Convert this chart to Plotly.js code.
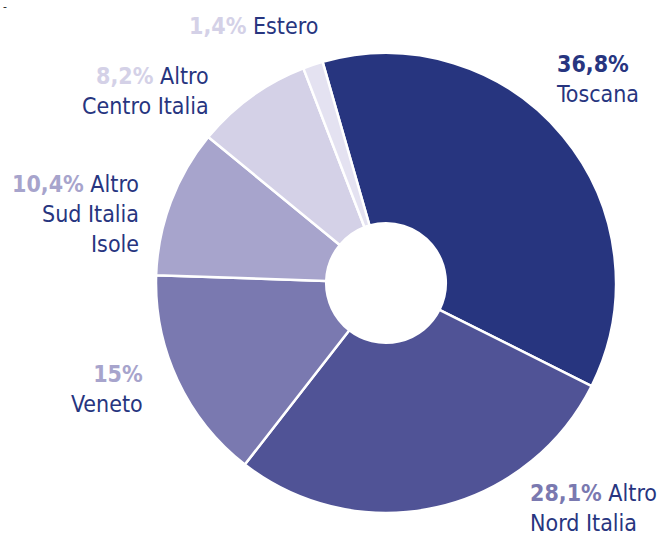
<!DOCTYPE html>
<html>
<head>
<meta charset="utf-8">
<script src="https://cdn.plot.ly/plotly-3.0.1.min.js"></script>
<style>html,body{margin:0;padding:0;background:#fff;}#chart{width:658px;height:535px;}</style>
</head>
<body>
<div id="chart"></div>
<script>
const categories = ["Toscana", "Altro Nord Italia", "Veneto", "Altro Sud Italia Isole", "Altro Centro Italia", "Estero"];
const values = [36.8, 28.1, 15, 10.4, 8.2, 1.4];
const percentLabels = ["36,8%", "28,1%", "15%", "10,4%", "8,2%", "1,4%"];
const nameLines = [["Toscana"], ["Altro", "Nord Italia"], ["Veneto"], ["Altro", "Sud Italia", "Isole"], ["Altro", "Centro Italia"], ["Estero"]];
const sliceColors = ["#27357f", "#505396", "#7a79b0", "#a7a4cc", "#d4d1e7", "#e4e2f1"];
const pctColors = ["#27357f", "#7a79b0", "#a7a4cc", "#a7a4cc", "#d4d1e7", "#d4d1e7"];

const W = 658, H = 535;
const cx = 386, cy = 283, R = 230;
const FONT = "'DejaVu Sans Condensed', sans-serif";
const NAVY = "#27357f";

// label placement: [x px, y px (center), xanchor, pct-on-own-line]
const labelPos = [
  [554, 79, "left", true],
  [528, 508, "left", false],
  [145, 389, "right", true],
  [141, 214, "right", false],
  [211, 91, "right", false],
  [320, 26, "right", false]
];

const annotations = categories.map((c, i) => {
  const pct = `<b><span style="color:${pctColors[i]}">${percentLabels[i]}</span></b>`;
  const lines = nameLines[i].slice();
  let text;
  if (labelPos[i][3]) text = pct + "<br>" + lines.join("<br>");
  else { lines[0] = pct + " " + lines[0]; text = lines.join("<br>"); }
  return {
    x: labelPos[i][0] / W, y: 1 - labelPos[i][1] / H, xref: "paper", yref: "paper",
    xanchor: labelPos[i][2], yanchor: "middle", align: labelPos[i][2],
    showarrow: false, text: text,
    font: {family: FONT, size: 23, color: NAVY}
  };
});
annotations.push({x: 1 / W, y: 1 - 7 / H, xref: "paper", yref: "paper", xanchor: "left", yanchor: "middle",
  showarrow: false, text: "-", font: {family: FONT, size: 12, color: "#333"}});

const trace = {
  type: "pie",
  labels: categories,
  values: values,
  sort: false,
  direction: "clockwise",
  rotation: -16,
  hole: 0.26,
  textinfo: "none",
  hoverinfo: "label+percent",
  marker: {colors: sliceColors, line: {color: "#ffffff", width: 2.5}},
  domain: {x: [(cx - R) / W, (cx + R) / W], y: [1 - (cy + R) / H, 1 - (cy - R) / H]},
  showlegend: false
};

Plotly.newPlot("chart", [trace], {
  width: W, height: H,
  margin: {l: 0, r: 0, t: 0, b: 0},
  paper_bgcolor: "#fff",
  showlegend: false,
  annotations: annotations
}, {displayModeBar: false, staticPlot: true});
</script>
</body>
</html>
